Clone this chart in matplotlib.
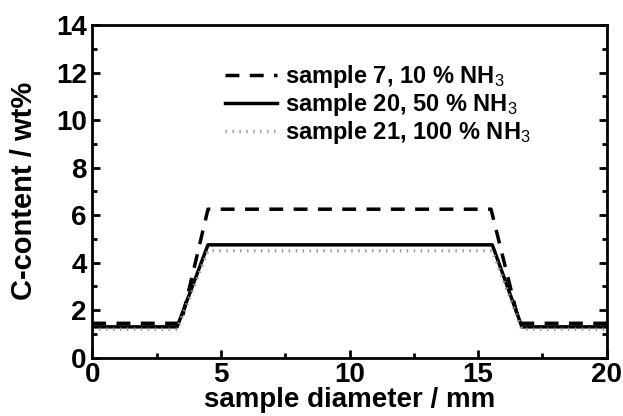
import matplotlib
matplotlib.use("Agg")
import matplotlib.pyplot as plt
from matplotlib.ticker import MultipleLocator

plt.rcParams['font.family'] = ['Liberation Sans', 'DejaVu Sans']
plt.rcParams['mathtext.fontset'] = 'custom'
plt.rcParams['mathtext.rm'] = 'Liberation Sans'
plt.rcParams['mathtext.it'] = 'Liberation Sans'

# -----------------------------
# DATA
# -----------------------------
x7 = [0, 3.45, 4.5, 15.5, 16.6, 20]
y7 = [1.45, 1.45, 6.25, 6.25, 1.45, 1.45]

x20 = [0, 3.3, 4.5, 15.55, 16.7, 20]
y20 = [1.3, 1.3, 4.75, 4.75, 1.3, 1.3]

x21 = [0, 3.3, 4.5, 15.55, 16.7, 20]
y21 = [1.2, 1.2, 4.5, 4.5, 1.2, 1.2]

labels = ["sample 7, 10 % NH$_3$",
          "sample 20, 50 % NH$_3$",
          "sample 21, 100 % NH$_3$"]

# -----------------------------
# FIGURE
# -----------------------------
fig = plt.figure(figsize=(6.23, 4.16), dpi=100)
ax = fig.add_axes([0.148, 0.140, 0.826, 0.800])

ax.plot(x7, y7, color="black", lw=2.5, linestyle=(0, (4, 3)), label=labels[0])
ax.plot(x20, y20, color="black", lw=2.5, label=labels[1])
ax.plot(x21, y21, color="#999999", lw=2.5, linestyle=(0, (0.4, 1.6)), label=labels[2])

ax.set_xlim(0, 20)
ax.set_ylim(0, 14)
ax.xaxis.set_major_locator(MultipleLocator(5))
ax.xaxis.set_minor_locator(MultipleLocator(2.5))
ax.yaxis.set_major_locator(MultipleLocator(2))
ax.yaxis.set_minor_locator(MultipleLocator(1))

for s in ax.spines.values():
    s.set_linewidth(2)

ax.tick_params(which="both", direction="in", right=True, top=False, width=2,
               labelsize=20)
ax.tick_params(axis="x", pad=3)
ax.tick_params(axis="y", pad=4)
ax.tick_params(which="major", length=6)
ax.tick_params(which="minor", length=3.5)
for lab in ax.get_xticklabels() + ax.get_yticklabels():
    lab.set_fontweight("bold")

ax.set_xlabel("sample diameter / mm", fontsize=20, fontweight="bold", labelpad=-1)
ax.set_ylabel("C-content / wt%", fontsize=21, fontweight="bold", labelpad=13)

leg = ax.legend(loc="upper left", bbox_to_anchor=(0.216, 0.95), frameon=False,
                handlelength=2.2, handletextpad=0.35, labelspacing=0.05,
                prop={"weight": "bold", "size": 17})

fig.savefig("out.png", dpi=100)
